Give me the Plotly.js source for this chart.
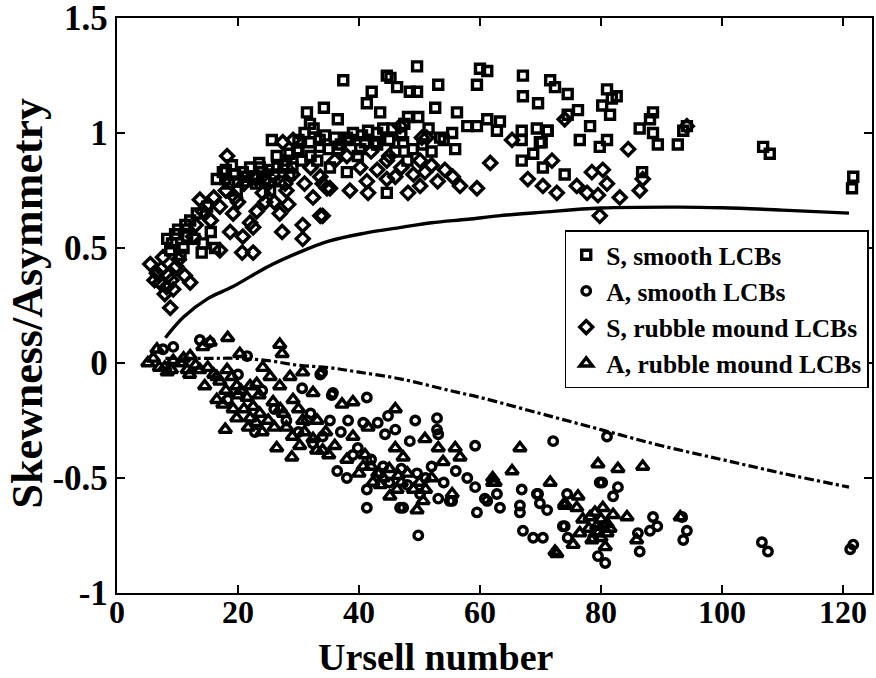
<!DOCTYPE html>
<html>
<head>
<meta charset="utf-8">
<script src="https://cdn.plot.ly/plotly-3.0.1.min.js"></script>
<style>html,body{margin:0;padding:0;background:#fff;}#chart{width:876px;height:678px;}</style>
</head>
<body>
<div id="chart"></div>
<script>
// ---- Data ----
const seriesNames = ["S, smooth LCBs", "A, smooth LCBs", "S, rubble mound LCBs", "A, rubble mound LCBs"];

const sSmoothX = [8.3,9.1,10.1,11.6,12.1,13.2,14.0,14.9,16.2,17.5,17.9,19.8,20.8,22.0,23.6,24.5,25.3,25.6,26.4,27.5,28.5,29.8,30.5,31.4,31.9,31.9,33.1,34.2,34.4,35.2,36.5,37.4,38.0,39.8,40.2,41.3,42.1,43.5,44.6,44.6,45.2,46.3,47.3,48.1,48.4,48.9,49.6,49.6,49.8,52.6,53.1,53.4,55.4,55.9,56.2,57.9,59.5,59.5,60.0,61.2,61.2,62.8,63.3,66.9,66.9,66.9,67.1,67.1,68.8,69.4,69.6,69.9,70.2,70.4,71.1,71.2,71.6,72.4,74.0,74.5,74.5,76.2,76.5,78.2,79.8,80.2,81.0,81.0,81.5,81.8,82.6,86.4,86.8,88.1,88.6,88.6,89.4,92.7,93.6,94.2,106.8,107.9,121.5,121.7,
  18.5,19.5,21.0,22.5,23.0,24.0,26.0,27.0,28.0,29.0,30.0,31.0,32.5,33.5,35.0,36.0,37.0,38.5,39.0,40.5,41.5,42.5,43.0,44.0,45.0,46.0,47.0,48.0,50.5,51.5,52.0,54.0,10.5,11.0,12.8,15.5,14.2,
  16.5,18.0,19.0,20.0,21.5,23.5,25.0,26.5,28.5,30.0,32.0,33.5,36.5,38.0,41.0,43.0,45.5,47.5,8.8,9.6,11.3];
const sSmoothY = [0.54,0.52,0.58,0.55,0.62,0.65,0.48,0.68,0.50,0.83,0.80,0.75,0.83,0.85,0.85,0.80,0.75,0.97,0.90,0.86,0.82,0.93,0.88,1.09,1.04,0.96,0.88,1.11,0.99,0.85,1.06,1.23,0.83,0.90,0.93,1.13,1.18,1.09,1.25,0.74,1.24,1.20,0.96,1.07,1.18,0.93,1.29,1.18,1.07,1.11,1.21,0.98,1.00,0.93,1.09,1.03,1.21,1.03,1.28,1.27,1.06,1.01,1.05,1.01,0.97,0.88,1.25,1.16,0.91,1.02,1.13,0.96,0.96,0.85,1.01,1.01,1.23,1.20,0.82,1.17,1.08,1.10,0.97,1.03,0.94,1.12,1.19,0.97,1.08,1.15,1.16,1.02,0.83,1.06,1.09,1.00,0.95,0.95,1.01,1.03,0.94,0.91,0.76,0.81,
  0.78,0.82,0.79,0.81,0.78,0.83,0.82,0.79,0.88,0.85,0.97,1.00,1.02,0.94,0.93,0.98,0.95,0.97,1.00,0.99,1.01,0.96,1.00,1.02,0.97,0.92,0.99,0.88,0.95,1.02,0.92,0.97,0.47,0.50,0.54,0.57,0.52,
  0.80,0.84,0.86,0.79,0.81,0.87,0.84,0.85,0.91,0.92,0.90,0.97,0.93,0.98,0.96,0.95,1.02,1.04,0.49,0.56,0.60];

const aSmoothX = [7.6,9.3,13.7,15.4,21.5,18.3,22.8,30.6,31.4,32.4,33.6,33.9,34.0,35.2,35.5,35.7,36.4,38.0,38.2,39.8,40.7,41.3,41.3,41.3,43.1,43.5,44.3,44.8,46.0,46.8,47.3,48.4,49.3,49.6,49.8,50.1,52.9,52.9,53.1,53.1,55.0,55.4,57.9,59.2,59.2,59.5,60.8,61.2,62.8,63.3,66.6,66.6,66.9,67.1,68.8,69.4,69.6,69.9,70.4,71.1,72.1,73.7,74.0,74.4,74.5,78.7,79.3,79.5,79.8,80.2,80.3,80.7,81.0,82.0,82.8,86.1,86.4,88.1,88.6,89.3,93.4,93.6,94.2,106.6,107.6,121.2,121.7,
  20.0,24.0,26.0,28.0,30.0,32.0,37.0,39.0,42.0,44.0,45.0,47.0,48.0,51.0,52.0,54.0,56.0];
const aSmoothY = [0.06,0.07,0.10,0.09,0.03,-0.16,-0.30,-0.11,-0.25,-0.35,-0.05,-0.04,-0.32,-0.25,-0.14,-0.13,-0.47,-0.50,-0.25,-0.37,-0.26,-0.15,-0.55,-0.63,-0.26,-0.48,-0.31,-0.23,-0.29,-0.63,-0.63,-0.34,-0.25,-0.48,-0.75,-0.57,-0.24,-0.29,-0.31,-0.59,-0.60,-0.60,-0.50,-0.36,-0.54,-0.65,-0.59,-0.60,-0.57,-0.63,-0.62,-0.65,-0.55,-0.73,-0.76,-0.57,-0.57,-0.61,-0.76,-0.64,-0.34,-0.71,-0.71,-0.57,-0.76,-0.76,-0.73,-0.84,-0.52,-0.52,-0.71,-0.87,-0.32,-0.58,-0.54,-0.74,-0.82,-0.73,-0.67,-0.71,-0.67,-0.77,-0.73,-0.78,-0.82,-0.81,-0.79,
  -0.05,-0.12,-0.20,-0.25,-0.30,-0.22,-0.30,-0.40,-0.42,-0.45,-0.52,-0.46,-0.53,-0.50,-0.45,-0.52,-0.47];

const sRubbleX = [5.5,6.6,7.1,7.6,7.9,8.8,9.3,8.5,9.8,11.2,12.1,12.6,13.7,14.2,15.5,17.0,17.0,18.2,18.7,19.2,20.7,20.8,22.0,22.5,22.5,23.1,24.1,26.9,27.3,27.4,28.3,29.1,30.7,30.7,32.4,33.6,33.6,34.0,34.0,34.7,35.2,38.5,40.2,41.3,41.5,43.0,44.6,44.6,46.0,46.8,48.1,50.1,50.1,50.4,50.9,51.2,54.2,55.5,56.7,59.5,61.7,65.3,67.9,70.4,71.9,72.7,74.0,76.0,77.7,78.5,79.5,79.8,80.3,81.0,83.1,84.5,86.4,86.9,94.2,
  16.0,18.0,20.0,21.0,23.0,25.0,26.0,28.0,29.0,31.0,32.0,36.0,38.0,42.0,45.0,47.0,49.0,52.0,53.0,
  6.2,7.3,8.2,9.0,10.2,13.0,15.0,19.5,24.5,27.8];
const sRubbleY = [0.43,0.39,0.35,0.46,0.30,0.24,0.32,0.38,0.42,0.38,0.35,0.55,0.71,0.66,0.62,0.49,0.68,0.90,0.57,0.65,0.48,0.55,0.61,0.48,0.59,0.66,0.74,0.65,0.57,0.96,0.69,0.97,0.60,0.54,0.72,0.64,0.81,0.78,0.64,0.76,0.76,0.75,0.85,0.79,0.74,0.84,0.88,0.80,0.81,1.03,0.74,0.77,0.88,0.98,0.83,0.98,0.84,0.81,0.77,0.76,0.87,0.97,0.80,0.77,0.88,0.74,1.06,0.77,0.74,0.83,0.73,0.64,0.84,0.78,0.72,0.93,0.75,0.80,1.03,
  0.72,0.75,0.70,0.78,0.80,0.78,0.70,0.75,0.82,0.78,0.85,0.88,0.90,0.92,0.90,0.85,0.82,0.86,0.79,
  0.36,0.41,0.33,0.36,0.45,0.60,0.69,0.72,0.70,0.78];

const aRubbleX = [5.1,6.0,6.6,7.9,8.3,9.3,10.5,11.6,12.1,13.7,14.2,14.5,15.4,16.5,16.5,17.9,18.2,18.3,19.2,19.8,19.8,20.3,21.5,21.7,22.5,23.1,23.6,24.1,25.3,25.8,26.4,26.9,26.9,27.3,28.6,28.9,29.1,30.2,30.7,30.7,32.4,32.4,33.1,34.0,37.2,39.0,39.0,40.7,41.5,42.3,43.1,45.1,46.0,46.0,46.3,47.3,49.6,50.6,50.9,53.1,53.9,55.4,55.9,56.7,62.1,62.1,62.5,65.3,66.6,71.6,72.4,72.7,74.0,74.0,75.4,76.0,76.2,76.5,78.2,79.3,79.5,80.3,80.7,81.0,82.8,84.3,85.9,86.9,93.1,
  12.0,15.0,17.0,18.0,20.0,21.0,22.0,23.0,24.0,25.0,27.0,28.0,29.0,31.0,33.0,35.0,36.0,38.0,40.0,42.0,44.0,45.0,47.0,48.0,50.0,51.0,52.0,77.0,78.0,79.0,80.0,81.0,82.0,78.5,80.0,
  7.0,9.0,11.0,13.0,16.0,17.5,19.0,20.5,22.0,23.5,26.0,27.5,30.0,34.5,41.0,43.5,46.5,49.0,79.5,81.5];
const aRubbleY = [0.00,0.02,0.06,-0.02,-0.04,0.01,0.00,-0.03,0.03,-0.03,0.07,-0.10,0.09,-0.06,-0.16,-0.29,-0.03,0.11,-0.20,-0.10,-0.24,0.04,-0.15,-0.28,-0.19,-0.09,-0.22,-0.02,-0.06,-0.17,-0.37,0.08,-0.10,0.04,-0.06,-0.41,-0.16,-0.36,-0.04,-0.25,-0.13,-0.33,-0.25,-0.38,-0.18,-0.17,-0.32,-0.45,-0.28,-0.52,-0.48,-0.58,-0.20,-0.37,-0.55,-0.41,-0.64,-0.60,-0.33,-0.37,-0.43,-0.57,-0.37,-0.41,-0.50,-0.52,-0.52,-0.47,-0.37,-0.52,-0.82,-0.83,-0.61,-0.62,-0.79,-0.63,-0.58,-0.74,-0.67,-0.71,-0.44,-0.63,-0.80,-0.74,-0.46,-0.67,-0.77,-0.45,-0.67,
  -0.05,-0.02,-0.08,-0.12,-0.14,-0.20,-0.10,-0.26,-0.30,-0.25,-0.20,-0.28,-0.32,-0.30,-0.38,-0.40,-0.36,-0.42,-0.48,-0.45,-0.50,-0.46,-0.52,-0.48,-0.52,-0.55,-0.50,-0.68,-0.72,-0.65,-0.68,-0.70,-0.66,-0.77,-0.76,
  -0.02,-0.03,0.02,-0.01,-0.05,-0.18,-0.06,-0.12,-0.24,-0.14,-0.28,-0.22,-0.20,-0.30,-0.40,-0.53,-0.49,-0.55,-0.74,-0.72];

// model curves
const skewCurveX = [8,11,15,19,25,30,35,41,47,52,58,63,70,80,93,100,110,121];
const skewCurveY = [0.11,0.20,0.28,0.33,0.42,0.48,0.53,0.565,0.59,0.61,0.625,0.64,0.655,0.674,0.678,0.675,0.665,0.652];
const asymCurveX = [8,15,20,25,30,35,40,47,55,60,70,80,90,100,110,121];
const asymCurveY = [0.02,0.02,0.02,0.01,-0.01,-0.02,-0.04,-0.07,-0.12,-0.15,-0.22,-0.29,-0.36,-0.42,-0.48,-0.54];

// axis ticks
const xTickVals = [0,20,40,60,80,100,120];
const xTickText = ["0","20","40","60","80","100","120"];
const yTickVals = [-1,-0.5,0,0.5,1,1.5];
const yTickText = ["-1","-0.5","0","0.5","1","1.5"];

const xTitle = "Ursell number";
const yTitle = "Skewness/Asymmetry";

// ---- Chart ----
const FONT = "Liberation Serif, Times New Roman, serif";
function mk(x, y, name, symbol, size, group) {
  return {
    type: "scatter", mode: "markers", x: x, y: y, name: name, legendgroup: group,
    marker: {symbol: symbol, size: size, color: "#000", line: {color: "#000", width: 3.4}}
  };
}
const traces = [
  {type:"scatter", mode:"lines", x: skewCurveX, y: skewCurveY, line:{color:"#000", width:3.4, shape:"spline"}, showlegend:false, hoverinfo:"skip"},
  {type:"scatter", mode:"lines", x: asymCurveX, y: asymCurveY, line:{color:"#000", width:3.2, dash:"dashdot", shape:"spline"}, showlegend:false, hoverinfo:"skip"},
  mk(sSmoothX, sSmoothY, seriesNames[0], "square-open", 9, "g1"),
  mk(aSmoothX, aSmoothY, seriesNames[1], "circle-open", 8.5, "g2"),
  mk(sRubbleX, sRubbleY, seriesNames[2], "diamond-open", 10, "g3"),
  mk(aRubbleX, aRubbleY, seriesNames[3], "triangle-up-open", 11, "g4")
];

const axisCommon = {
  showline: true, mirror: "ticks", linecolor: "#000", linewidth: 2.2,
  ticks: "inside", ticklen: 8, tickwidth: 1.5, tickcolor: "#000",
  showgrid: false, zeroline: false, tickmode: "array", ticklabeloverflow: "allow",
  tickfont: {family: FONT, size: 35, color: "#000", weight: "bold"}
};

const layout = {
  width: 876, height: 678,
  margin: {l: 117, r: 4, t: 18, b: 85},
  paper_bgcolor: "#fff", plot_bgcolor: "#fff",
  showlegend: true,
  font: {family: FONT, color: "#000"},
  xaxis: Object.assign({}, axisCommon, {range: [0, 124.8], tickvals: xTickVals, ticktext: xTickText, ticklabelstandoff: -11,
    tickfont: {family: FONT, size: 32, color: "#000", weight: "bold"}}),
  yaxis: Object.assign({}, axisCommon, {range: [-1.0005, 1.5005], tickvals: yTickVals, ticktext: yTickText, ticklabelstandoff: 0}),
  legend: {
    x: 0.593, y: 0.631, xanchor: "left", yanchor: "top",
    bgcolor: "#fff", bordercolor: "#000", borderwidth: 1.5,
    font: {family: FONT, size: 25.5, color: "#000", weight: "bold"},
    tracegroupgap: 0, itemwidth: 30
  },
  annotations: [
    {text: xTitle, xref: "paper", yref: "paper", x: 0.4225, y: -0.111, xanchor: "center", yanchor: "middle", showarrow: false,
     font: {family: FONT, size: 38, color: "#000", weight: "bold"}},
    {text: yTitle, xref: "paper", yref: "paper", x: -0.118, y: 0.505, xanchor: "center", yanchor: "middle", textangle: -90, showarrow: false,
     font: {family: FONT, size: 44, color: "#000", weight: "bold"}}
  ]
};

Plotly.newPlot("chart", traces, layout, {displayModeBar: false, staticPlot: true});
</script>
</body>
</html>
